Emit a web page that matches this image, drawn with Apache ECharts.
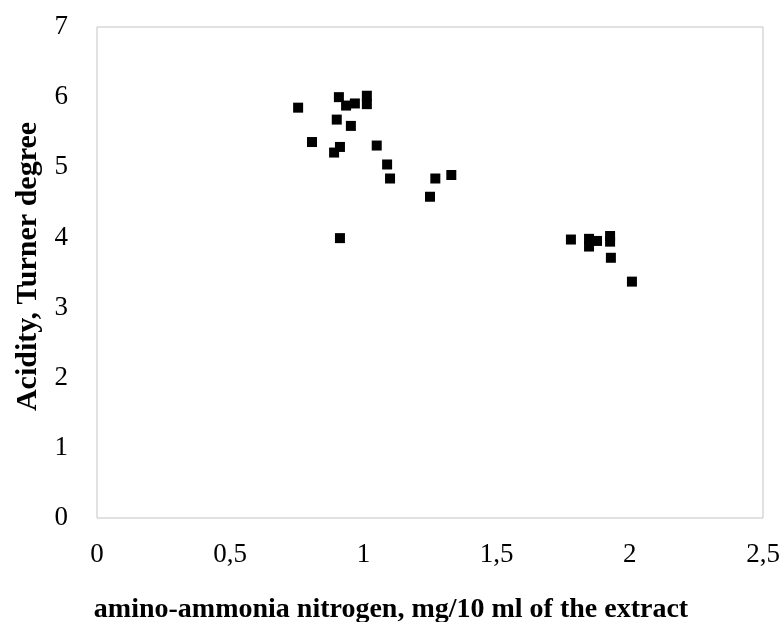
<!DOCTYPE html>
<html><head><meta charset="utf-8">
<script src="https://cdn.jsdelivr.net/npm/echarts@6/dist/echarts.min.js"></script>
<style>html,body{margin:0;padding:0;background:#fff}#c{width:782px;height:622px}</style>
</head><body><div id="c"></div>
<script>
const xValues = [0.755,0.807,0.908,0.90,0.912,0.89,0.935,0.968,0.953,1.013,1.013,1.05,1.089,1.10,1.27,1.33,1.25,0.912,1.779,1.847,1.847,1.877,1.926,1.926,1.929,2.008];
const yValues = [5.85,5.36,6.0,5.68,5.29,5.21,5.88,5.91,5.59,6.02,5.9,5.31,5.04,4.84,4.84,4.89,4.58,3.99,3.97,3.98,3.87,3.95,4.02,3.94,3.71,3.37];
const xTitle = 'amino-ammonia nitrogen, mg/10 ml of the extract';
const yTitle = 'Acidity, Turner degree';
const points = xValues.map((x,i)=>[x,yValues[i]]);
const chart = echarts.init(document.getElementById('c'));
const font = '"Liberation Serif","Times New Roman",serif';
chart.setOption({
  animation:false,
  grid:{left:97,right:19,top:27,bottom:104,outerBoundsMode:'none',containLabel:false,show:true,borderColor:'#c4c4c4',borderWidth:1},
  xAxis:{type:'value',min:0,max:2.5,interval:0.5,
    name:xTitle,nameLocation:'middle',nameGap:78,
    nameTextStyle:{fontFamily:font,fontWeight:'bold',fontSize:28,color:'#000',padding:[0,78,0,0]},
    axisLine:{show:false},axisTick:{show:false},splitLine:{show:false},
    axisLabel:{fontFamily:font,fontSize:27,color:'#000',margin:23,formatter:v=>String(v).replace('.',',')}},
  yAxis:{type:'value',min:0,max:7,interval:1,
    name:yTitle,nameLocation:'middle',nameGap:49,nameRotate:90,
    nameTextStyle:{fontFamily:font,fontWeight:'bold',fontSize:30,color:'#000',padding:[0,0,0,12]},
    axisLine:{show:false},axisTick:{show:false},splitLine:{show:false},
    axisLabel:{fontFamily:font,fontSize:27,color:'#000',margin:29}},
  series:[{type:'scatter',data:points,symbol:'rect',symbolSize:10,itemStyle:{color:'#000',opacity:1}}]
});
</script></body></html>
